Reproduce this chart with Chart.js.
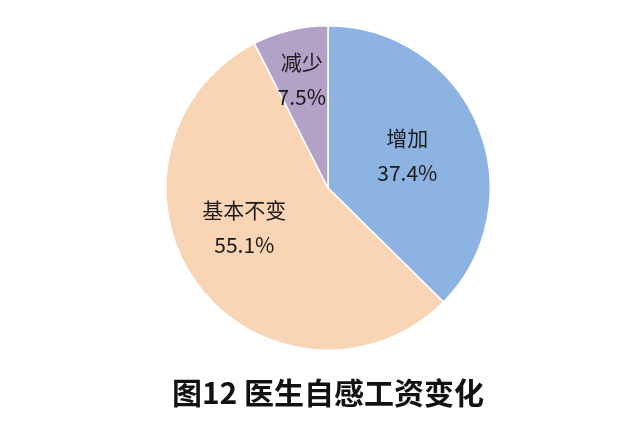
<!DOCTYPE html>
<html>
<head>
<meta charset="utf-8">
<script src="https://cdn.jsdelivr.net/npm/chart.js@4/dist/chart.umd.min.js"></script>
<style>
  html, body { margin: 0; padding: 0; background: #fff; }
  #wrap { width: 640px; height: 427px; }
</style>
</head>
<body>
<div id="wrap"><canvas id="pieChart"></canvas></div>
<script>
// data
var labels = ["增加", "基本不变", "减少"];
var shares = [37.4, 55.1, 7.5];
var sliceColors = ["#8DB3E2", "#FAD5B5", "#B3A2C7"];
var chartTitle = "图12 医生自感工资变化";

// where each label sits inside its slice (fraction of radius, angle nudge in degrees)
var labelRadius = [0.53, 0.57, 0.69];
var labelNudge = [0, 11, 0];

var sliceLabels = {
  id: "sliceLabels",
  afterDatasetsDraw: function (chart) {
    var ctx = chart.ctx;
    var arcs = chart.getDatasetMeta(0).data;
    ctx.save();
    ctx.fillStyle = "#1a1a1a";
    ctx.font = "21px 'Noto Sans CJK SC', sans-serif";
    ctx.textAlign = "center";
    ctx.textBaseline = "middle";
    arcs.forEach(function (arc, i) {
      var mid = (arc.startAngle + arc.endAngle) / 2 + labelNudge[i] * Math.PI / 180;
      var r = arc.outerRadius * labelRadius[i];
      var x = arc.x + Math.cos(mid) * r;
      var y = arc.y + Math.sin(mid) * r;
      ctx.fillText(labels[i], x, y - 17);
      ctx.fillText(shares[i].toFixed(1) + "%", x, y + 18);
    });
    ctx.restore();
  }
};

new Chart(document.getElementById("pieChart"), {
  type: "pie",
  data: {
    labels: labels,
    datasets: [{
      data: shares,
      backgroundColor: sliceColors,
      borderColor: "#ffffff",
      borderWidth: 1.5
    }]
  },
  options: {
    responsive: true,
    maintainAspectRatio: false,
    animation: false,
    layout: { padding: { left: 165, right: 149, top: 25, bottom: 0 } },
    plugins: {
      legend: { display: false },
      tooltip: { enabled: false },
      title: {
        display: true,
        text: chartTitle,
        position: "bottom",
        color: "#111",
        font: { family: "'Noto Sans CJK SC', sans-serif", size: 30, weight: "bold", lineHeight: 1.2 },
        padding: { top: 24, bottom: 16 }
      }
    }
  },
  plugins: [sliceLabels]
});
</script>
</body>
</html>
